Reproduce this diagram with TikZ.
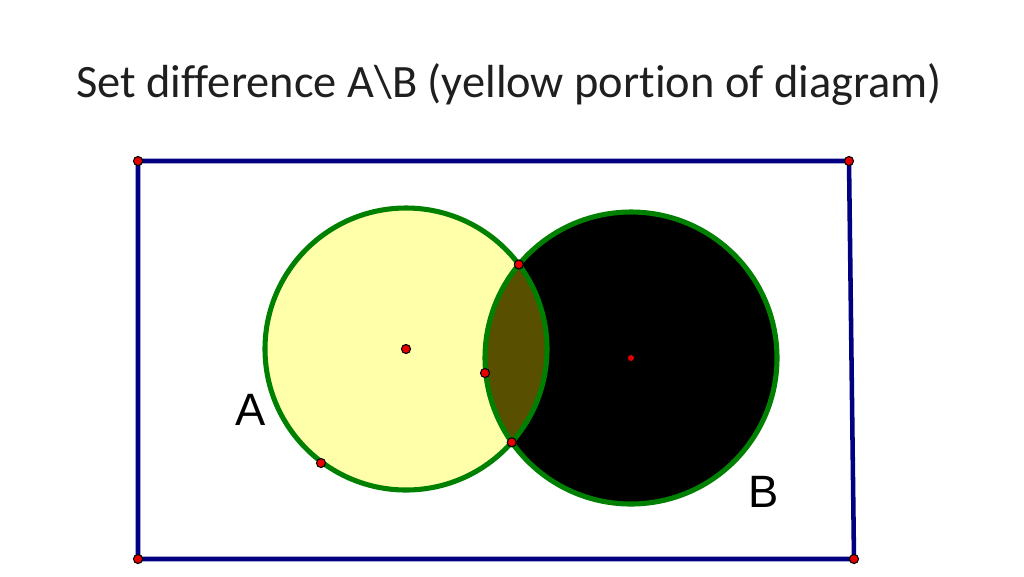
\documentclass[tikz,border=0pt]{standalone}
\usepackage{fontspec}
\setmainfont{Carlito}[Ligatures={NoCommon}]
\newfontfamily\labelfont{Liberation Sans}
\usetikzlibrary{intersections}
\definecolor{navyline}{RGB}{0,0,128}
\definecolor{greenline}{RGB}{0,128,0}
\definecolor{yellowfill}{RGB}{255,255,170}
\definecolor{olivefill}{RGB}{88,80,0}
\definecolor{dotred}{RGB}{230,0,0}
\tikzset{
  dotpt/.style={circle,fill=dotred,draw=black,line width=0.8pt,inner sep=0pt,minimum size=6.8pt},
  dotsmall/.style={circle,fill=dotred,inner sep=0pt,minimum size=4.5pt},
  ring/.style={draw=greenline,line width=3.8pt},
  frame/.style={draw=navyline,line width=3.4pt,line join=miter},
  setlabel/.style={font=\labelfont\fontsize{34}{40}\selectfont,inner sep=0pt},
}
\begin{document}
\begin{tikzpicture}[x=0.75pt,y=-0.75pt]
\useasboundingbox (0,0) rectangle (1024,576);
\fill[white] (0,0) rectangle (1024,576);
\node[inner sep=0pt,text=black!88] (title) at (509,85) {\fontsize{34.8}{42}\selectfont Set difference A\textbackslash B (yellow portion of diagram)};
% frame
\coordinate (tl) at (138,161);
\coordinate (tr) at (849,161);
\coordinate (br) at (854,559);
\coordinate (bl) at (138,559);
\draw[frame] (tl) -- (tr) -- (br) -- (bl) -- cycle;
% circles
\coordinate (ca) at (406,349);
\coordinate (cb) at (631,358);
\fill[black] (cb) circle[radius=146];
\fill[yellowfill] (ca) circle[radius=141];
\begin{scope}
  \clip (ca) circle[radius=141];
  \fill[olivefill] (cb) circle[radius=146];
\end{scope}
\path[ring,name path=circA] (ca) circle[radius=141];
\path[ring,name path=circB] (cb) circle[radius=146];
\path[name intersections={of=circA and circB,name=ix}];
% labels
\node[setlabel] (labA) at (251,410) {A};
\node[setlabel] (labB) at (764,492) {B};
% points
\node[dotpt] (p1) at (tl) {};
\node[dotpt] (p2) at (tr) {};
\node[dotpt] (p3) at (br) {};
\node[dotpt] (p4) at (bl) {};
\node[dotpt] (p5) at (ca) {};
\node[dotsmall] (p6) at (cb) {};
\node[dotpt] (p7) at (ix-1) {};
\node[dotpt] (p8) at (ix-2) {};
\node[dotpt] (p9) at (485,373) {};
\node[dotpt] (p10) at (321,463) {};
\end{tikzpicture}
\end{document}
